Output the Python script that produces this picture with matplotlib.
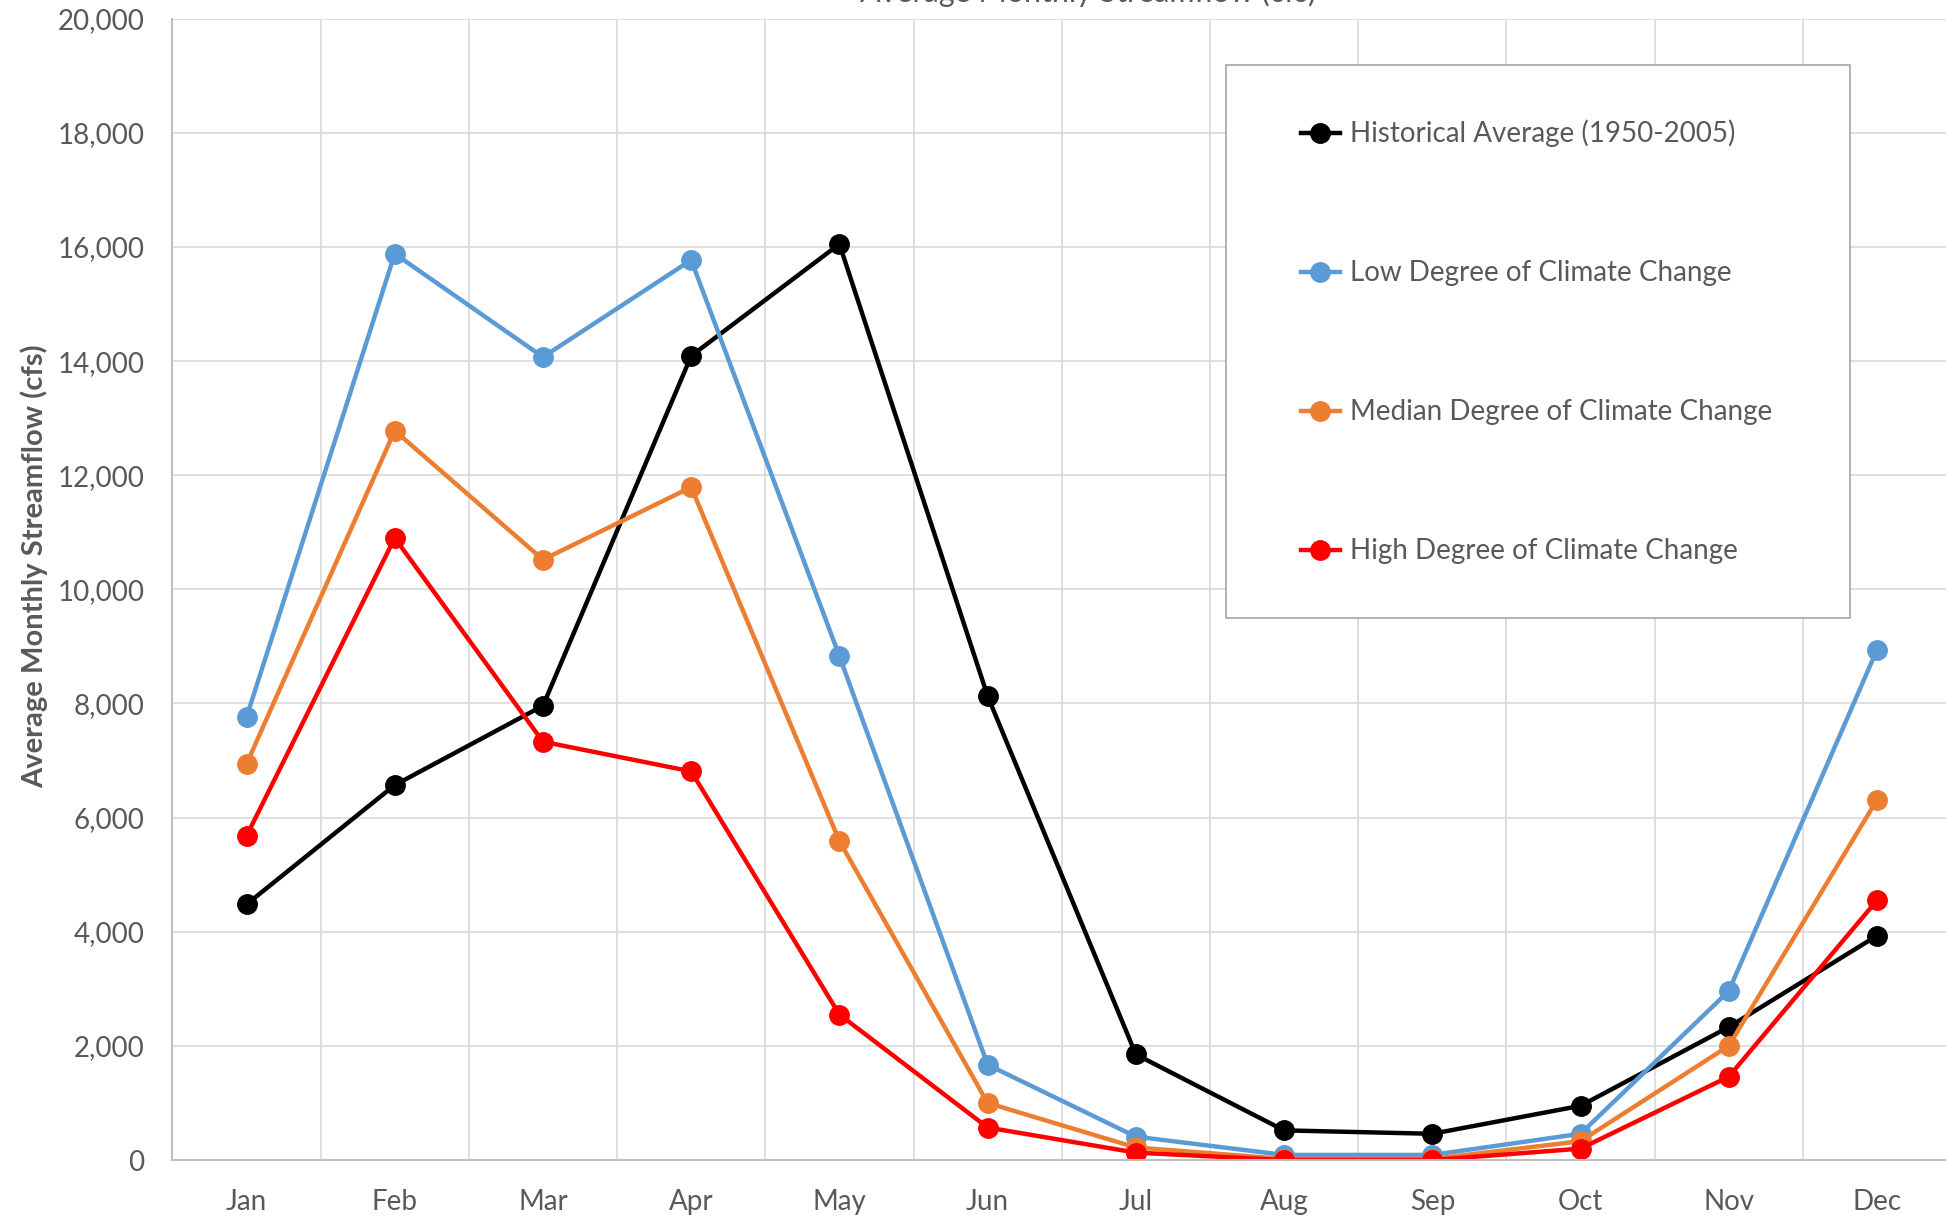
import numpy as np
import matplotlib.pyplot as plt
from matplotlib.patches import Rectangle
from matplotlib.ticker import FuncFormatter, FixedLocator

months = ['Jan', 'Feb', 'Mar', 'Apr', 'May', 'Jun', 'Jul', 'Aug', 'Sep', 'Oct', 'Nov', 'Dec']

historico = [4480, 6570, 7960, 14090, 16050, 8130, 1850, 520, 460, 950, 2330, 3930]
baixo = [7760, 15880, 14070, 15770, 8830, 1670, 410, 90, 90, 460, 2960, 8940]
mediano = [6940, 12780, 10520, 11790, 5590, 1000, 220, 20, 20, 330, 2000, 6310]
alto = [5680, 10900, 7330, 6810, 2550, 570, 130, 0, 0, 200, 1460, 4550]

series = [
    ('Historical Average (1950-2005)', historico, '#000000'),
    ('Low Degree of Climate Change', baixo, '#5B9BD5'),
    ('Median Degree of Climate Change', mediano, '#ED7D31'),
    ('High Degree of Climate Change', alto, '#FF0000'),
]

plt.rcParams['font.family'] = ['Lato', 'DejaVu Sans']
cor_texto = '#595959'

fig = plt.figure(figsize=(19.46, 12.17), dpi=100)
ax = fig.add_axes([0.0886, 0.0468, 0.914, 0.9379])

x = np.arange(len(months))
for nome, valores, cor in series:
    ax.plot(x, valores, color=cor, marker='o', linewidth=3.2, markersize=14,
            label=nome, solid_joinstyle='round')

ax.set_xlim(-0.5, 11.5)
ax.set_ylim(0, 20000)
ax.set_yticks(np.arange(0, 20001, 2000))
ax.yaxis.set_major_formatter(FuncFormatter(lambda v, p: f'{int(v):,}'))
ax.set_xticks(x)
ax.set_xticklabels(months)
ax.xaxis.set_minor_locator(FixedLocator(np.arange(-0.5, 12, 1)))

ax.grid(axis='y', which='major', color='#d9d9d9', linewidth=1.2)
ax.grid(axis='x', which='minor', color='#d9d9d9', linewidth=1.2)
ax.set_axisbelow(True)

ax.tick_params(axis='both', which='both', length=0, labelsize=20, labelcolor=cor_texto)
ax.tick_params(axis='y', pad=20)
ax.tick_params(axis='x', pad=21)

for lado in ['top', 'right']:
    ax.spines[lado].set_visible(False)
for lado in ['left', 'bottom']:
    ax.spines[lado].set_color('#bfbfbf')
    ax.spines[lado].set_linewidth(1.5)

ax.set_ylabel('Average Monthly Streamflow (cfs)', fontsize=21, fontweight='bold',
              color=cor_texto)
ax.yaxis.set_label_coords(-0.0696, 0.52)

# caixa da legenda desenhada a parte, para ter margem lateral maior
caixa = Rectangle((0.5925, 0.475), 0.3505, 0.4847, transform=ax.transAxes,
                  facecolor='white', edgecolor='#a6a6a6', linewidth=1.2, zorder=4)
ax.add_patch(caixa)

leg = ax.legend(loc='upper left', bbox_to_anchor=(0.6345, 0.9115), borderaxespad=0,
                fontsize=20, labelspacing=4.07, borderpad=0, handlelength=1.4,
                handletextpad=0.35, frameon=False, labelcolor=cor_texto)
leg.set_zorder(5)

fig.text(0.559, 1 - 2 / 1217, 'Average Monthly Streamflow (cfs)', ha='center',
         va='baseline', fontsize=22, color=cor_texto)

fig.savefig('out.png', dpi=100)
